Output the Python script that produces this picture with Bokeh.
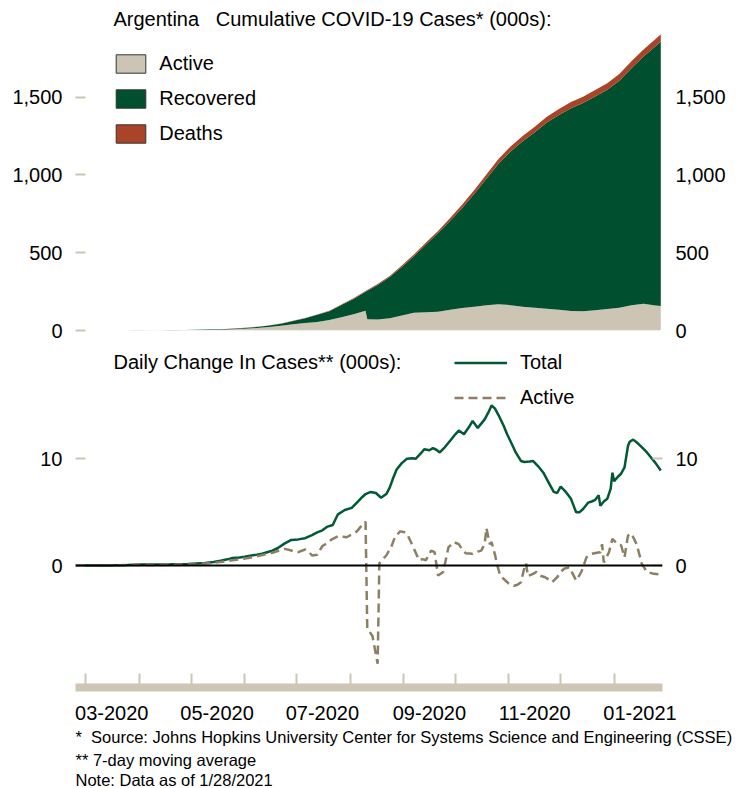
import pandas as pd
from bokeh.plotting import figure
from bokeh.models import (Range1d, FixedTicker, LinearAxis, Label, Legend, LegendItem, Span,
                          DatetimeTickFormatter, NumeralTickFormatter, ColumnDataSource, Title)
from bokeh.layouts import column
from bokeh.embed import file_html
from bokeh.resources import INLINE

# ---------------- data ----------------
BASE_DATE = "2020-02-24"          # day 0 of the series
END_DATE = "2021-01-29"

# cumulative cases (thousands), by day offset from BASE_DATE
cum_days = [0, 7, 14, 21, 28, 35, 42, 49, 56, 63, 70, 77, 84, 91, 98, 105, 112, 119, 126, 133,
            140, 147, 154, 161, 168, 169, 175, 182, 189, 196, 203, 210, 217, 224, 231, 238, 245,
            252, 259, 266, 273, 280, 287, 294, 301, 308, 315, 322, 329, 336, 339]
active = [0, 0, 0.012, 0.06, 0.28, 0.72, 1.2, 1.5, 2.0, 2.5, 3.1, 3.8, 5.0, 8.1, 11.5, 15.9, 22.1,
          31.3, 40.3, 48.0, 55.0, 68.0, 86.0, 105.0, 127.0, 73.0, 70.0, 78.0, 96.0, 114.0, 118.0,
          121.0, 133.0, 145.0, 152.0, 163.0, 168.0, 163.0, 152.0, 146.0, 140.0, 133.0, 126.0,
          124.0, 130.0, 138.0, 147.0, 163.0, 172.0, 160.0, 157.0]
recovered = [0, 0, 0, 0.003, 0.017, 0.077, 0.375, 0.667, 0.88, 1.2, 1.656, 2.151, 2.695, 3.524,
             5.376, 7.056, 9.852, 12.62, 20.74, 30.87, 46.32, 56.38, 78.36, 97.76, 122.1, 182.9,
             223.3, 265.5, 313.1, 363.6, 435.6, 505.7, 573.2, 643.3, 727.5, 812.9, 905.0, 988.5,
             1064.6, 1129.1, 1197.5, 1252.8, 1304.0, 1338.5, 1375.4, 1409.9, 1458.5, 1523.1,
             1589.4, 1667.8, 1700.9]
deaths = [0, 0, 0, 0.002, 0.004, 0.023, 0.053, 0.105, 0.151, 0.192, 0.264, 0.314, 0.373, 0.452,
          0.539, 0.664, 0.833, 1.011, 1.232, 1.581, 1.949, 2.373, 3.059, 3.979, 4.764, 4.95,
          5.814, 7.366, 8.66, 10.405, 11.852, 13.482, 16.937, 21.468, 24.186, 26.716, 29.301,
          31.623, 33.907, 35.436, 37.122, 38.73, 39.888, 40.766, 41.763, 42.65, 43.482, 44.848,
          46.066, 47.034, 47.601]

# daily change, 7-day moving average (thousands)
total_days = [0, 10, 20, 30, 37, 45, 55, 65, 75, 80, 84, 88, 91, 95, 98, 102, 105, 108, 111, 114,
              117, 121, 125, 129, 133, 137, 140, 143, 146, 149, 152, 156, 160, 163, 166, 168, 171,
              174, 177, 180, 182, 184, 186, 189, 192, 195, 197, 200, 202, 205, 207, 209, 211, 214,
              217, 220, 222, 225, 228, 230, 233, 235, 237, 239, 241, 243, 245, 248, 250, 253, 255,
              258, 260, 263, 265, 268, 271, 274, 277, 279, 281, 284, 287, 289, 290, 292, 294, 297,
              299, 301, 303, 304, 306, 308, 310, 311, 312, 314, 316, 318, 320, 321, 323, 325, 328,
              331, 333, 336, 339]
total_change = [0.0, 0.0, 0.01, 0.06, 0.10, 0.10, 0.12, 0.15, 0.24, 0.33, 0.45, 0.58, 0.70, 0.75,
                0.82, 0.95, 1.02, 1.10, 1.25, 1.40, 1.62, 2.05, 2.40, 2.45, 2.56, 2.85, 3.10, 3.30,
                3.65, 3.80, 4.80, 5.20, 5.40, 5.90, 6.40, 6.70, 6.90, 6.80, 6.35, 6.70, 7.30, 8.20,
                9.00, 9.60, 10.00, 10.05, 10.00, 10.50, 10.90, 10.80, 11.00, 10.85, 10.60, 11.10,
                11.70, 12.30, 12.65, 12.30, 13.00, 13.55, 12.90, 13.30, 13.70, 14.30, 15.00, 14.70,
                14.10, 13.10, 12.30, 11.30, 10.60, 9.80, 9.70, 9.75, 9.80, 9.30, 8.70, 7.80, 6.90,
                6.80, 7.40, 6.90, 6.25, 5.40, 5.00, 5.00, 5.30, 5.90, 6.00, 6.15, 6.60, 5.60, 6.00,
                6.25, 7.20, 8.70, 7.90, 8.30, 8.60, 9.20, 11.20, 11.60, 11.80, 11.55, 11.10, 10.60,
                10.20, 9.60, 8.90]

active_days = [0, 30, 50, 70, 80, 90, 100, 107, 114, 121, 124, 126, 129, 133, 135, 137, 140, 143,
               146, 148, 152, 155, 157, 160, 163, 166, 168, 169, 172, 175, 176, 178, 180, 183, 185,
               188, 190, 192, 194, 196, 199, 201, 203, 206, 208, 209, 210, 213, 216, 219, 222, 224,
               226, 230, 233, 235, 237, 238, 240, 241, 243, 244, 246, 249, 251, 254, 256, 258, 260,
               261, 262, 265, 267, 269, 272, 274, 276, 279, 281, 283, 286, 288, 290, 293, 296, 299,
               302, 304, 305, 306, 309, 311, 314, 316, 318, 320, 322, 325, 327, 328, 331, 335, 339]
active_change = [0.0, 0.04, 0.06, 0.12, 0.25, 0.47, 0.70, 0.94, 1.20, 1.56, 1.45, 1.35, 1.25,
                 1.50, 1.30, 0.94, 1.00, 1.83, 2.10, 2.40, 2.75, 2.70, 2.65, 2.90, 3.20, 3.80, 4.10,
                 -5.90, -6.60, -9.20, 0.20, 0.60, 0.94, 1.80, 2.65, 3.20, 3.15, 3.00, 2.30, 1.60,
                 0.50, 0.60, 0.50, 1.40, 1.25, 0.16, -0.94, -0.60, 1.70, 2.20, 2.00, 1.50, 1.15,
                 1.10, 1.30, 1.40, 2.00, 3.50, 2.00, 2.20, 1.00, 0.20, -0.94, -1.40, -1.70, -1.90,
                 -1.80, -1.56, -0.20, 0.20, -1.00, -0.78, -0.60, -0.94, -1.10, -1.30, -1.56, -1.10,
                 -0.60, -0.30, -0.16, -0.78, -1.40, -0.60, 0.78, 1.10, 1.20, 1.25, 2.00, 0.30, 1.25,
                 2.50, 2.00, 1.90, 0.78, 2.80, 3.00, 2.00, 0.80, 0.16, -0.60, -0.78, -0.84]

top_ticks = [0, 500, 1000, 1500]
bottom_ticks = [0, 10]
month_starts = ["2020-03-01", "2020-04-01", "2020-05-01", "2020-06-01", "2020-07-01", "2020-08-01",
                "2020-09-01", "2020-10-01", "2020-11-01", "2020-12-01", "2021-01-01"]
label_dates = ["2020-03-16", "2020-05-16", "2020-07-16", "2020-09-16", "2020-11-16", "2021-01-16"]

# ---------------- styles ----------------
FONT = "Liberation Sans"
ACTIVE_FILL = "#ccc5b3"
REC_FILL = "#005030"
DEATH_FILL = "#aa4428"
TOTAL_LINE = "#005a36"
ACTIVE_LINE = "#8c7f63"
TICK = "#cdc6b4"


def to_dates(days):
    return pd.to_datetime(BASE_DATE) + pd.to_timedelta(days, unit="D")


def ms(d):
    return pd.Timestamp(d).value / 1e6


x_range = Range1d(start=pd.Timestamp(BASE_DATE), end=pd.Timestamp(END_DATE))

# ---------------- top panel ----------------
p1 = figure(width=741, height=345, x_range=x_range, y_range=Range1d(0, 2122.1),
            x_axis_type="datetime", x_axis_location=None, output_backend="svg",
            toolbar_location=None, min_border_left=75, min_border_right=79,
            min_border_top=0, min_border_bottom=15)
p1.outline_line_color = None
p1.grid.visible = False

src1 = ColumnDataSource(dict(date=to_dates(cum_days), active=active, recovered=recovered,
                             deaths=deaths))
p1.varea_stack(["active", "recovered", "deaths"], x="date", source=src1,
               color=[ACTIVE_FILL, REC_FILL, DEATH_FILL])

# legend proxies (one point each, kept below the visible range)
proxy = dict(x=to_dates(cum_days[:1]), y=[-1000])
lg_a = p1.rect(x=proxy["x"], y=proxy["y"], width=1, height=1, fill_color=ACTIVE_FILL,
               line_color="#333333")
lg_r = p1.rect(x=proxy["x"], y=proxy["y"], width=1, height=1, fill_color=REC_FILL,
               line_color="#333333")
lg_d = p1.rect(x=proxy["x"], y=proxy["y"], width=1, height=1, fill_color=DEATH_FILL,
               line_color="#333333")

leg1 = Legend(items=[LegendItem(label="Active", renderers=[lg_a]),
                     LegendItem(label="Recovered", renderers=[lg_r]),
                     LegendItem(label="Deaths", renderers=[lg_d])],
              location=(37.3, 185.3), glyph_width=37, glyph_height=23, label_standoff=10,
              spacing=12, padding=0, margin=0, border_line_color=None,
              background_fill_alpha=0, label_text_font=FONT, label_text_font_size="20px",
              label_text_color="black")
p1.add_layout(leg1)


def style_y(ax, ticks, tick_in):
    ax.ticker = FixedTicker(ticks=ticks)
    ax.axis_line_color = None
    ax.major_tick_in = tick_in
    ax.major_tick_out = 0
    ax.major_tick_line_color = TICK
    ax.major_tick_line_width = 2
    ax.minor_tick_line_color = None
    ax.major_label_standoff = 13
    ax.major_label_text_font = FONT
    ax.major_label_text_font_size = "20px"
    ax.major_label_text_color = "black"


p1.yaxis.formatter = NumeralTickFormatter(format="0,0")
style_y(p1.yaxis[0], top_ticks, 10)
r1 = LinearAxis(formatter=NumeralTickFormatter(format="0,0"))
style_y(r1, top_ticks, 0)
p1.add_layout(r1, "right")

p1.add_layout(Label(x=ms("2020-03-17"), y=2000,
                    text="Argentina\u00a0\u00a0 Cumulative COVID-19 Cases* (000s):",
                    text_font=FONT, text_font_size="20px", text_baseline="middle",
                    text_align="left", text_color="black"))

# ---------------- bottom panel ----------------
p2 = figure(width=741, height=443, x_range=x_range, y_range=Range1d(-11.43, 20.62),
            x_axis_type="datetime", output_backend="svg", toolbar_location=None,
            min_border_left=75, min_border_right=79, min_border_top=0, min_border_bottom=101)
p2.outline_line_color = None
p2.grid.visible = False

p2.add_layout(Span(location=0, dimension="width", line_color="black", line_width=2))

src_t = ColumnDataSource(dict(date=to_dates(total_days), v=total_change))
src_a = ColumnDataSource(dict(date=to_dates(active_days), v=active_change))
lt = p2.line("date", "v", source=src_t, line_color=TOTAL_LINE, line_width=2.5)
la = p2.line("date", "v", source=src_a, line_color=ACTIVE_LINE, line_width=2.5,
             line_dash="9 5")

leg2 = Legend(items=[LegendItem(label="Total", renderers=[lt]),
                     LegendItem(label="Active", renderers=[la])],
              location=(379, 278.5), glyph_width=53, glyph_height=23, label_standoff=13,
              spacing=12, padding=0, margin=0, border_line_color=None,
              background_fill_alpha=0, label_text_font=FONT, label_text_font_size="20px",
              label_text_color="black")
p2.add_layout(leg2)

style_y(p2.yaxis[0], bottom_ticks, 10)
r2 = LinearAxis()
style_y(r2, bottom_ticks, 10)
p2.add_layout(r2, "right")

xa = p2.xaxis[0]
xa.ticker = FixedTicker(ticks=[ms(d) for d in label_dates],
                        minor_ticks=[ms(d) for d in month_starts])
fmt = "%m-%Y"
xa.formatter = DatetimeTickFormatter(days=fmt, months=fmt, years=fmt, hours=fmt,
                                     minutes=fmt, seconds=fmt, milliseconds=fmt)
xa.axis_line_color = TICK
xa.axis_line_width = 8
xa.major_tick_line_color = None
xa.major_tick_in = 0
xa.major_tick_out = 0
xa.minor_tick_line_color = TICK
xa.minor_tick_line_width = 2
xa.minor_tick_in = 14
xa.minor_tick_out = 0
xa.major_label_standoff = 18
xa.major_label_text_font = FONT
xa.major_label_text_font_size = "20px"
xa.major_label_text_color = "black"

p2.add_layout(Label(x=ms("2020-03-17"), y=19.12, text="Daily Change In Cases** (000s):",
                    text_font=FONT, text_font_size="20px", text_baseline="middle",
                    text_align="left", text_color="black"))

# ---------------- footnotes ----------------
notes = ["*\u00a0 Source: Johns Hopkins University Center for Systems Science and Engineering (CSSE)",
         "** 7-day moving average",
         "Note: Data as of 1/28/2021"]
for txt, so in zip(notes, [6, 0, 0]):
    p2.add_layout(Title(text=txt, align="left", offset=0, standoff=so, text_font=FONT,
                        text_font_size="16.5px", text_font_style="normal",
                        text_color="black"), "below")

layout = column(p1, p2)
open("out.html", "w").write(file_html(layout, INLINE))
